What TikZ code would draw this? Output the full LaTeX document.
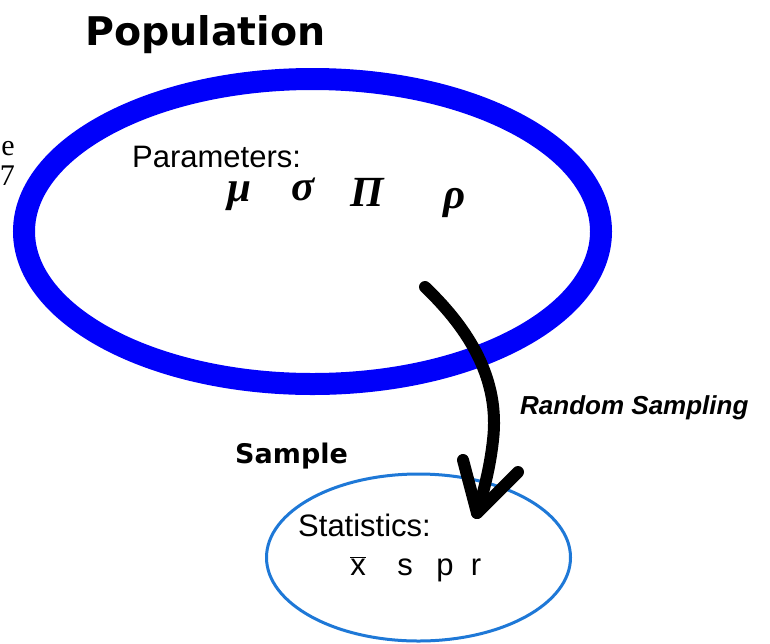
\documentclass[tikz,border=0pt]{standalone}
\usepackage{fontspec}
\usetikzlibrary{shapes.geometric}
\setmainfont{Liberation Sans}
\newfontfamily\headfont{DejaVu Sans}
\newfontfamily\arialfont{Liberation Sans}
\newfontfamily\timesfont{Liberation Serif}
\definecolor{popblue}{RGB}{0,0,250}
\definecolor{sampblue}{RGB}{30,120,215}
\tikzset{
  popell/.style={ellipse, draw=popblue, line width=22pt, minimum width=577pt, minimum height=305pt, inner sep=0pt},
  sampell/.style={ellipse, draw=sampblue, line width=3pt, minimum width=304pt, minimum height=167pt, inner sep=0pt},
  headtxt/.style={inner sep=0pt, font=\headfont\bfseries\fontsize{39.5}{44}\selectfont},
  subhead/.style={inner sep=0pt, font=\headfont\bfseries\fontsize{27}{32}\selectfont},
  plaintxt/.style={inner sep=0pt, font=\arialfont\fontsize{31}{36}\selectfont},
  greek/.style={inner sep=0pt, font=\timesfont\bfseries\itshape\fontsize{43}{48}\selectfont},
  labeltxt/.style={inner sep=0pt, font=\arialfont\bfseries\itshape\fontsize{26}{30}\selectfont},
  edgetxt/.style={inner sep=0pt, font=\timesfont\fontsize{30}{34}\selectfont},
  bigarrow/.style={line width=12pt, line cap=round, line join=round, black}
}
\begin{document}
\begin{tikzpicture}[x=1pt, y=-1pt]
\useasboundingbox[fill=white] (0,0) rectangle (770,643);
% ellipses
\node[popell] (pop) at (312.5,231.5) {};
\node[sampell] (samp) at (418.5,557.5) {};
% titles
\node[headtxt, anchor=base west] (poptitle) at (85,45) {Population};
\node[subhead, anchor=base west] (samptitle) at (235,463) {Sample};
% parameters
\node[plaintxt, anchor=base west] (params) at (132,167) {Parameters:};
\node[greek] (mu) at (239,196) {μ};
\node[greek] (sigma) at (303,189) {σ};
\node[greek] (Pi) at (367,192) {Π};
\node[greek] (rho) at (455,203) {ρ};
% statistics
\node[plaintxt, anchor=base west] (stats) at (298,536) {Statistics:};
\node[plaintxt, anchor=base] (xbar) at (358,575) {$\overline{\mbox{x}}$};
\node[plaintxt, anchor=base] (s) at (405,575) {s};
\node[plaintxt, anchor=base] (p) at (445,575) {p};
\node[plaintxt, anchor=base] (r) at (476,575) {r};
% marginal text, cut by the left edge in the reference
\node[edgetxt, anchor=base east] (e) at (15,155) {e};
\node[edgetxt, anchor=base east] (seven) at (15,185) {7};
% arrow
\coordinate (start) at (425,287);
\coordinate (mid) at (493,440);
\coordinate (tip) at (477,513);
\coordinate (armL) at (463,460);
\coordinate (armR) at (518,472);
\draw[bigarrow] (start) .. controls (470,330) and (500,380) .. (mid)
  .. controls (490,468) and (483,494) .. (tip);
\draw[bigarrow] (armL) -- (tip) -- (armR);
\node[labeltxt, anchor=base west] (rs) at (520,414) {Random Sampling};
\end{tikzpicture}
\end{document}
